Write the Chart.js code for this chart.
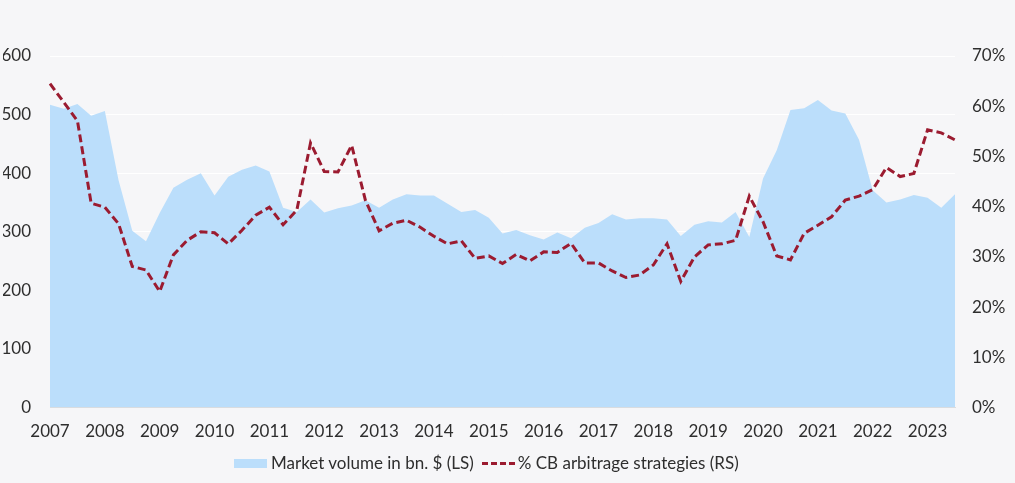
<!DOCTYPE html>
<html>
<head>
<meta charset="utf-8">
<script src="https://cdn.jsdelivr.net/npm/chart.js@4"></script>
<style>
  html, body { margin: 0; padding: 0; background: #f6f6f8; }
  #wrap { width: 1015px; height: 483px; position: relative; }
  #cb-legend { position: absolute; left: 234px; top: 452px; height: 22px;
    font-family: Lato, "Open Sans", sans-serif; font-size: 17px; color: #2e2e2e;
    white-space: nowrap; line-height: 22px; }
  #cb-legend ul { list-style: none; margin: 0; padding: 0; display: flex; align-items: center; }
  #cb-legend li { display: flex; align-items: center; margin-right: 8px; }
  #cb-legend .box { display: inline-block; width: 33px; height: 9px; margin-right: 4px; }
  #cb-legend svg { margin-right: 1px; }
</style>
</head>
<body>
<div id="wrap"><canvas id="cb-chart"></canvas><div id="cb-legend"></div></div>
<script>
const quarters = [
    '2007 Q1', '2007 Q2', '2007 Q3', '2007 Q4',
    '2008 Q1', '2008 Q2', '2008 Q3', '2008 Q4',
    '2009 Q1', '2009 Q2', '2009 Q3', '2009 Q4',
    '2010 Q1', '2010 Q2', '2010 Q3', '2010 Q4',
    '2011 Q1', '2011 Q2', '2011 Q3', '2011 Q4',
    '2012 Q1', '2012 Q2', '2012 Q3', '2012 Q4',
    '2013 Q1', '2013 Q2', '2013 Q3', '2013 Q4',
    '2014 Q1', '2014 Q2', '2014 Q3', '2014 Q4',
    '2015 Q1', '2015 Q2', '2015 Q3', '2015 Q4',
    '2016 Q1', '2016 Q2', '2016 Q3', '2016 Q4',
    '2017 Q1', '2017 Q2', '2017 Q3', '2017 Q4',
    '2018 Q1', '2018 Q2', '2018 Q3', '2018 Q4',
    '2019 Q1', '2019 Q2', '2019 Q3', '2019 Q4',
    '2020 Q1', '2020 Q2', '2020 Q3', '2020 Q4',
    '2021 Q1', '2021 Q2', '2021 Q3', '2021 Q4',
    '2022 Q1', '2022 Q2', '2022 Q3', '2022 Q4',
    '2023 Q1', '2023 Q2', '2023 Q3'
];

// market volume in bn $ (left scale)
const marketVolume = [
    517, 510, 518, 498,
    506, 388, 302, 284,
    332, 375, 389, 400,
    362, 394, 406, 413,
    403, 341, 334, 355,
    333, 340, 345, 354,
    341, 355, 364, 362,
    362, 348, 334, 337,
    324, 297, 303, 294,
    287, 299, 289, 307,
    315, 330, 321, 323,
    323, 321, 293, 312,
    318, 316, 334, 291,
    391, 439, 508, 511,
    525, 507, 502, 457,
    371, 350, 355, 363,
    358, 341, 364
];

// share of CB arbitrage strategies in % (right scale)
const arbitrageShare = [
    64.5, 60.8, 57.1, 40.7,
    39.9, 36.6, 28.1, 27.4,
    23.1, 30.4, 33.3, 35.0,
    34.8, 32.6, 35.3, 38.3,
    39.9, 36.4, 39.3, 52.7,
    47.0, 46.9, 52.2, 41.3,
    35.2, 36.7, 37.3, 35.9,
    34.1, 32.6, 33.2, 29.7,
    30.2, 28.7, 30.5, 29.2,
    31.0, 30.9, 32.7, 28.8,
    28.8, 27.2, 25.9, 26.4,
    28.4, 32.6, 25.1, 30.0,
    32.4, 32.6, 33.3, 42.1,
    37.0, 30.2, 29.4, 34.7,
    36.3, 38.0, 41.3, 42.1,
    43.4, 47.8, 46.0, 46.6,
    55.3, 54.7, 53.3
];

const leftTicks = [0, 100, 200, 300, 400, 500, 600];
const rightTicks = [0, 10, 20, 30, 40, 50, 60, 70];

const textColor = '#2e2e2e';
const fontFamily = 'Lato, "Open Sans", sans-serif';

let ctx = document.getElementById('cb-chart').getContext('2d');

window.cbChart = new Chart(ctx, {
    type: 'line',
    data: {
        labels: quarters,
        datasets: [{
            label: '% CB arbitrage strategies (RS)',
            data: arbitrageShare,
            yAxisID: 'y1',
            borderColor: '#9b1b30',
            backgroundColor: '#9b1b30',
            borderWidth: 3,
            borderDash: [8, 4],
            pointRadius: 0,
            tension: 0,
            fill: false
        }, {
            label: 'Market volume in bn. $ (LS)',
            data: marketVolume,
            yAxisID: 'y',
            borderWidth: 0,
            borderColor: 'rgba(0,0,0,0)',
            backgroundColor: '#bbdefb',
            pointRadius: 0,
            tension: 0,
            fill: 'origin'
        }]
    },
    options: {
        responsive: true,
        maintainAspectRatio: false,
        animation: false,
        layout: {
            padding: { top: 56, left: 3, right: 6, bottom: 35 }
        },
        plugins: {
            legend: { display: false },
            tooltip: { enabled: false }
        },
        scales: {
            x: {
                offset: false,
                grid: { display: false },
                border: { color: '#dcdcdc' },
                ticks: {
                    autoSkip: false,
                    maxRotation: 0,
                    padding: 6,
                    color: textColor,
                    font: { family: fontFamily, size: 17 },
                    callback: function (value, index) {
                        return index % 4 === 0 ? quarters[index].slice(0, 4) : '';
                    }
                }
            },
            y: {
                position: 'left',
                min: leftTicks[0],
                max: leftTicks[leftTicks.length - 1],
                afterFit: function (scale) { scale.width = 47; },
                grid: { color: '#ffffff', lineWidth: 1, drawTicks: false },
                border: { display: false },
                ticks: {
                    stepSize: 100,
                    padding: 19,
                    color: textColor,
                    font: { family: fontFamily, size: 17 }
                }
            },
            y1: {
                position: 'right',
                min: rightTicks[0],
                max: rightTicks[rightTicks.length - 1],
                afterFit: function (scale) { scale.width = 54; },
                grid: { drawOnChartArea: false, drawTicks: false },
                border: { display: false },
                ticks: {
                    stepSize: 10,
                    padding: 17,
                    color: textColor,
                    font: { family: fontFamily, size: 17 },
                    callback: function (value) {
                        return value + '%';
                    }
                }
            }
        }
    }
});

// html legend, area first then the dashed line
let customLegend = function (chart) {
    let ul = document.createElement('ul');
    let sets = chart.data.datasets.slice().reverse();

    sets.forEach(function (ds) {
        let mark;
        if (ds.fill) {
            mark = `<span class="box" style="background-color: ${ds.backgroundColor};"></span>`;
        } else {
            mark = `<svg width="35" height="9"><line x1="0" y1="4.5" x2="35" y2="4.5" stroke="${ds.borderColor}" stroke-width="3" stroke-dasharray="6 3"/></svg>`;
        }
        ul.innerHTML += `<li>${mark}${ds.label}</li>`;
    });

    return ul.outerHTML;
};

document.getElementById('cb-legend').innerHTML = customLegend(window.cbChart);
</script>
</body>
</html>
